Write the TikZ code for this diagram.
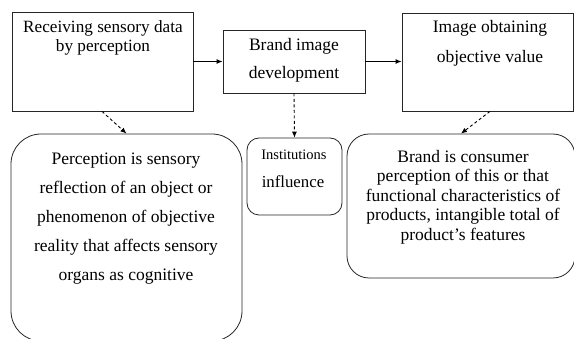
\documentclass[tikz,border=0pt]{standalone}
\usepackage{fontspec}
\setmainfont{Liberation Serif}
\newfontfamily\tnr{Liberation Serif}
\usetikzlibrary{arrows.meta}
\begin{document}
\begin{tikzpicture}[x=1pt,y=-1pt,
  box/.style={draw=black!85,line width=0.8pt},
  txt/.style={align=center,inner sep=0pt,font=\tnr\fontsize{17.5}{19.5}\selectfont},
  solidarrow/.style={draw=black,line width=0.9pt,-{Latex[length=6pt,width=5pt]}},
  dasharrow/.style={draw=black,line width=0.9pt,dash pattern=on 3pt off 2.5pt,-{Latex[length=6pt,width=5pt]}}]
\useasboundingbox (0,0) rectangle (574,339);
\clip (0,0) rectangle (574,339);
% top boxes
\node[box,minimum width=181pt,minimum height=99pt,inner sep=0pt] (recv) at (102.5,61.5) {};
\node[box,minimum width=142pt,minimum height=63pt,inner sep=0pt] (dev) at (294,61.5) {};
\node[box,minimum width=171pt,minimum height=98pt,inner sep=0pt] (obt) at (487.5,62) {};
\node[txt,font=\tnr\fontsize{17.2}{19}\selectfont] (recvt) at (103,38) {Receiving sensory data\\by perception};
\node[txt,font=\tnr\fontsize{17.5}{28}\selectfont] (devt) at (294,60) {Brand image\\development};
\node[txt,font=\tnr\fontsize{17.5}{30}\selectfont] (obtt) at (490,43) {Image obtaining\\objective value};
% bottom boxes
\node[box,rounded corners=30pt,minimum width=231pt,minimum height=207pt,inner sep=0pt] (perc) at (126.5,237.5) {};
\node[box,rounded corners=12pt,minimum width=95pt,minimum height=77pt,inner sep=0pt] (inst) at (294.5,176.5) {};
\node[box,rounded corners=22pt,minimum width=228pt,minimum height=144pt,inner sep=0pt] (brand) at (461,206) {};
\node[txt,font=\tnr\fontsize{17.5}{29}\selectfont] (perct) at (126,219) {Perception is sensory\\reflection of an object or\\phenomenon of objective\\reality that affects sensory\\organs as cognitive};
\node[txt,font=\tnr\fontsize{14.5}{16}\selectfont] (inst1) at (294,155) {Institutions};
\node[txt,font=\tnr\fontsize{16.8}{18}\selectfont] (inst2) at (293,182) {influence};
\node[txt,font=\tnr\fontsize{17.5}{19.6}\selectfont] (brandt) at (463,197) {Brand is consumer\\perception of this or that\\functional characteristics of\\products, intangible total of\\product’s features};
% connectors
\draw[solidarrow] (recv.east) -- (dev.west);
\draw[solidarrow] (dev.east) -- (obt.west |- dev.east);
\draw[dasharrow] ([xshift=-0.5pt]recv.south) -- (perc.north);
\draw[dasharrow] (dev.south) -- (inst.north);
\draw[dasharrow] ([xshift=2.5pt]obt.south) -- (brand.north);
\end{tikzpicture}
\end{document}
